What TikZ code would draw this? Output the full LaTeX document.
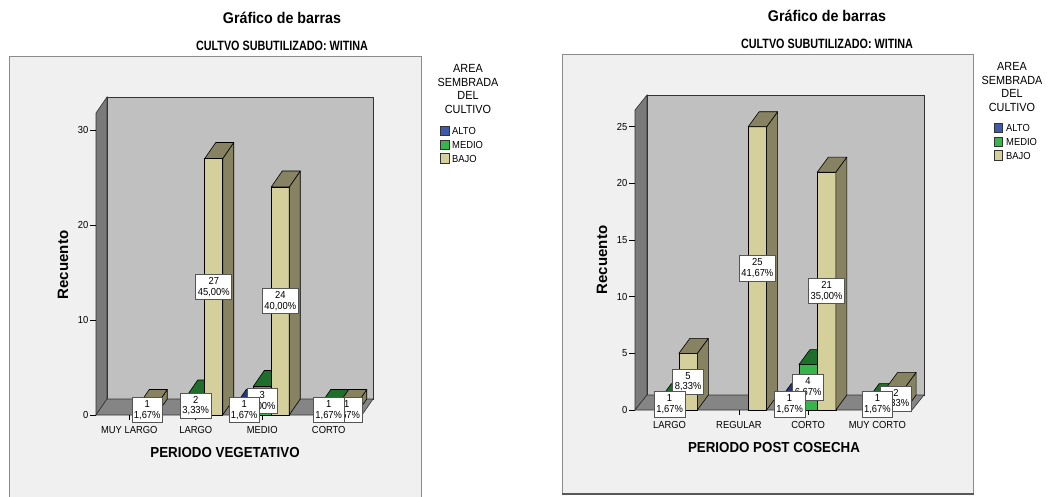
\documentclass[tikz,border=0pt]{standalone}
\usepackage{fontspec}
\setmainfont{Liberation Sans}
\newfontfamily\spss[FakeStretch=0.92]{Liberation Sans}
\newfontfamily\spssc[FakeStretch=0.8]{Liberation Sans}
\definecolor{framebg}{HTML}{F0F0F0}
\definecolor{framebd}{HTML}{8C8C8C}
\definecolor{bwall}{HTML}{C0C0C0}
\definecolor{lwall}{HTML}{7A7A7A}
\definecolor{floorc}{HTML}{858585}
\definecolor{alto}{HTML}{3D5BA9}
\definecolor{altos}{HTML}{24397A}
\definecolor{medio}{HTML}{37B44A}
\definecolor{medios}{HTML}{1F6E2B}
\definecolor{bajo}{HTML}{D5D09B}
\definecolor{bajos}{HTML}{878262}
\definecolor{lblbd}{HTML}{555555}
% bar: #1 centre x, #2 value, #3 front colour, #4 side colour
\newcommand{\dbar}[4]{%
  \pgfmathsetmacro{\xl}{#1-\cW/2}%
  \pgfmathsetmacro{\xr}{#1+\cW/2}%
  \pgfmathsetmacro{\yt}{\cF-#2*\cS}%
  \filldraw[barline,fill=#3] (\xl,\cF) rectangle (\xr,\yt);
  \filldraw[barline,fill=#4] (\xr,\cF) -- ++(\cDX,\cDY) -- (\xr+\cDX,\yt+\cDY) -- (\xr,\yt) -- cycle;
  \filldraw[barline,fill=#4] (\xl,\yt) -- ++(\cDX,\cDY) -- (\xr+\cDX,\yt+\cDY) -- (\xr,\yt) -- cycle;
}
% value label: #1 name, #2 centre x, #3 value, #4 percentage
\newcommand{\dlabel}[4]{%
  \node[vlbl] (#1) at ({#2},{\cF-#3*\cS/2}) {#3\\#4};
}
\begin{document}
\begin{tikzpicture}[x=1pt,y=-1pt,
  barline/.style={draw=black,line width=0.6pt,line join=round},
  wallline/.style={draw=black!80,line width=0.6pt},
  vlbl/.style={draw=lblbd,fill=white,line width=0.7pt,align=center,
    font=\spss\fontsize{10.2}{10.8}\selectfont,inner xsep=2pt,inner ysep=3pt},
  ticklbl/.style={font=\spss\fontsize{10.2}{11}\selectfont,anchor=east,inner sep=0pt},
  catlbl/.style={font=\spss\fontsize{10.2}{11}\selectfont,inner sep=0pt},
  titlef/.style={font=\spss\bfseries\fontsize{15.5}{18}\selectfont,inner sep=0pt},
  subf/.style={font=\spssc\bfseries\fontsize{13.5}{16}\selectfont,inner sep=0pt},
  axtf/.style={font=\spss\bfseries\fontsize{14.5}{17}\selectfont,inner sep=0pt},
  ytf/.style={font=\bfseries\fontsize{15}{17}\selectfont,inner sep=0pt,rotate=90},
  legtitle/.style={font=\spss\fontsize{11.8}{13.7}\selectfont,align=center,inner sep=0pt},
  legsq/.style={draw=black!80,line width=0.6pt,minimum width=8.5pt,minimum height=9.5pt,inner sep=0pt},
  legtxt/.style={font=\spss\fontsize{10.2}{11}\selectfont,anchor=west,inner sep=0pt},
  cattick/.style={draw=black,line width=0.7pt},
  frame/.style={fill=framebg,draw=framebd,line width=1pt}
]
\useasboundingbox (0,0) rectangle (1055,497);
\fill[white] (0,0) rectangle (1055,497);

% ================= LEFT CHART =================
\node[titlef] (t1) at (282,18) {Gráfico de barras};
\node[subf] (s1) at (282,46) {CULTVO SUBUTILIZADO: WITINA};
\filldraw[frame] (9,57) rectangle (421,502);
% walls
\filldraw[wallline,fill=lwall] (96,415) -- (96,113) -- (107,97) -- (107,399) -- cycle;
\filldraw[wallline,fill=bwall] (107,97) rectangle (373,399);
\filldraw[wallline,fill=floorc] (96,415) -- (362,415) -- (373,399) -- (107,399) -- cycle;
% y ticks
\foreach \v in {0,10,20,30}{
  \draw[line width=0.7pt] (90,{415-\v*9.5}) -- (96,{415-\v*9.5});
  \node[ticklbl] (ly\v) at (88.5,{415-\v*9.5}) {\v};
}
\node[ytf] (yt1) at (63,265) {Recuento};
\def\cF{415}\def\cS{9.5}\def\cW{18}\def\cDX{11}\def\cDY{-16}
\def\cA{129.25}\def\cB{195.75}\def\cC{262.25}\def\cD{328.75}
\foreach \c in {\cA,\cB,\cC,\cD}{\draw[cattick] (\c,415) -- (\c,420);}
% bars, left to right
\dbar{\cA+18}{1}{bajo}{bajos}
\dbar{\cB}{2}{medio}{medios}
\dbar{\cB+18}{27}{bajo}{bajos}
\dbar{\cC-18}{1}{alto}{altos}
\dbar{\cC}{3}{medio}{medios}
\dbar{\cC+18}{24}{bajo}{bajos}
\dbar{\cD}{1}{medio}{medios}
\dbar{\cD+18}{1}{bajo}{bajos}
% labels: bajo, medio, alto
\dlabel{l1}{\cA+18}{1}{1,67\%}
\dlabel{l2}{\cB+18}{27}{45,00\%}
\dlabel{l3}{\cC+18}{24}{40,00\%}
\dlabel{l4}{\cD+18}{1}{1,67\%}
\dlabel{l5}{\cB}{2}{3,33\%}
\dlabel{l6}{\cC}{3}{5,00\%}
\dlabel{l7}{\cD}{1}{1,67\%}
\dlabel{l8}{\cC-18}{1}{1,67\%}
% category labels
\node[catlbl] (c1) at (\cA,430) {MUY LARGO};
\node[catlbl] (c2) at (\cB,430) {LARGO};
\node[catlbl] (c3) at (\cC,430) {MEDIO};
\node[catlbl] (c4) at (\cD,430) {CORTO};
\node[axtf] (x1) at (225,453) {PERIODO VEGETATIVO};
% legend
\node[legtitle] (lg1) at (468,89) {AREA\\SEMBRADA\\DEL\\CULTIVO};
\node[legsq,fill=alto] (lq1) at (445,131) {};
\node[legsq,fill=medio] (lq2) at (445,145) {};
\node[legsq,fill=bajo] (lq3) at (445,158.5) {};
\node[legtxt] (lx1) at (452,131) {ALTO};
\node[legtxt] (lx2) at (452,145) {MEDIO};
\node[legtxt] (lx3) at (452,158.5) {BAJO};

% ================= RIGHT CHART =================
\node[titlef] (t2) at (827,16) {Gráfico de barras};
\node[subf] (s2) at (827,44) {CULTVO SUBUTILIZADO: WITINA};
\filldraw[frame] (562,55) rectangle (973,494);
\draw[draw=black!65,line width=1.6pt] (562,494) -- (973.5,494);
\filldraw[wallline,fill=lwall] (635,410) -- (635,110) -- (647,95) -- (647,395) -- cycle;
\filldraw[wallline,fill=bwall] (647,95) rectangle (924,395);
\filldraw[wallline,fill=floorc] (635,410) -- (912,410) -- (924,395) -- (647,395) -- cycle;
\foreach \v in {0,5,10,15,20,25}{
  \draw[line width=0.7pt] (629,{410-\v*11.33}) -- (635,{410-\v*11.33});
  \node[ticklbl] (ry\v) at (627.5,{410-\v*11.33}) {\v};
}
\node[ytf] (yt2) at (602,260) {Recuento};
\def\cF{410}\def\cS{11.33}\def\cW{18.5}\def\cDX{11}\def\cDY{-15}
\def\cA{669.6}\def\cB{738.9}\def\cC{808.1}\def\cD{877.4}
\foreach \c in {\cA,\cB,\cC,\cD}{\draw[cattick] (\c,410) -- (\c,415);}
\dbar{\cA}{1}{medio}{medios}
\dbar{\cA+18.5}{5}{bajo}{bajos}
\dbar{\cB+18.5}{25}{bajo}{bajos}
\dbar{\cC-18.5}{1}{alto}{altos}
\dbar{\cC}{4}{medio}{medios}
\dbar{\cC+18.5}{21}{bajo}{bajos}
\dbar{\cD}{1}{medio}{medios}
\dbar{\cD+18.5}{2}{bajo}{bajos}
\dlabel{r1}{\cA+18.5}{5}{8,33\%}
\dlabel{r2}{\cB+18.5}{25}{41,67\%}
\dlabel{r3}{\cC+18.5}{21}{35,00\%}
\dlabel{r4}{\cD+18.5}{2}{3,33\%}
\dlabel{r5}{\cA}{1}{1,67\%}
\dlabel{r6}{\cC}{4}{6,67\%}
\dlabel{r7}{\cD}{1}{1,67\%}
\dlabel{r8}{\cC-18.5}{1}{1,67\%}
\node[catlbl] (d1) at (\cA,425) {LARGO};
\node[catlbl] (d2) at (\cB,425) {REGULAR};
\node[catlbl] (d3) at (\cC,425) {CORTO};
\node[catlbl] (d4) at (\cD,425) {MUY CORTO};
\node[axtf] (x2) at (774,448) {PERIODO POST COSECHA};
\node[legtitle] (lg2) at (1012,87) {AREA\\SEMBRADA\\DEL\\CULTIVO};
\node[legsq,fill=alto] (rq1) at (998.5,128) {};
\node[legsq,fill=medio] (rq2) at (998.5,142) {};
\node[legsq,fill=bajo] (rq3) at (998.5,155.5) {};
\node[legtxt] (rx1) at (1006,128) {ALTO};
\node[legtxt] (rx2) at (1006,142) {MEDIO};
\node[legtxt] (rx3) at (1006,155.5) {BAJO};
\end{tikzpicture}
\end{document}
